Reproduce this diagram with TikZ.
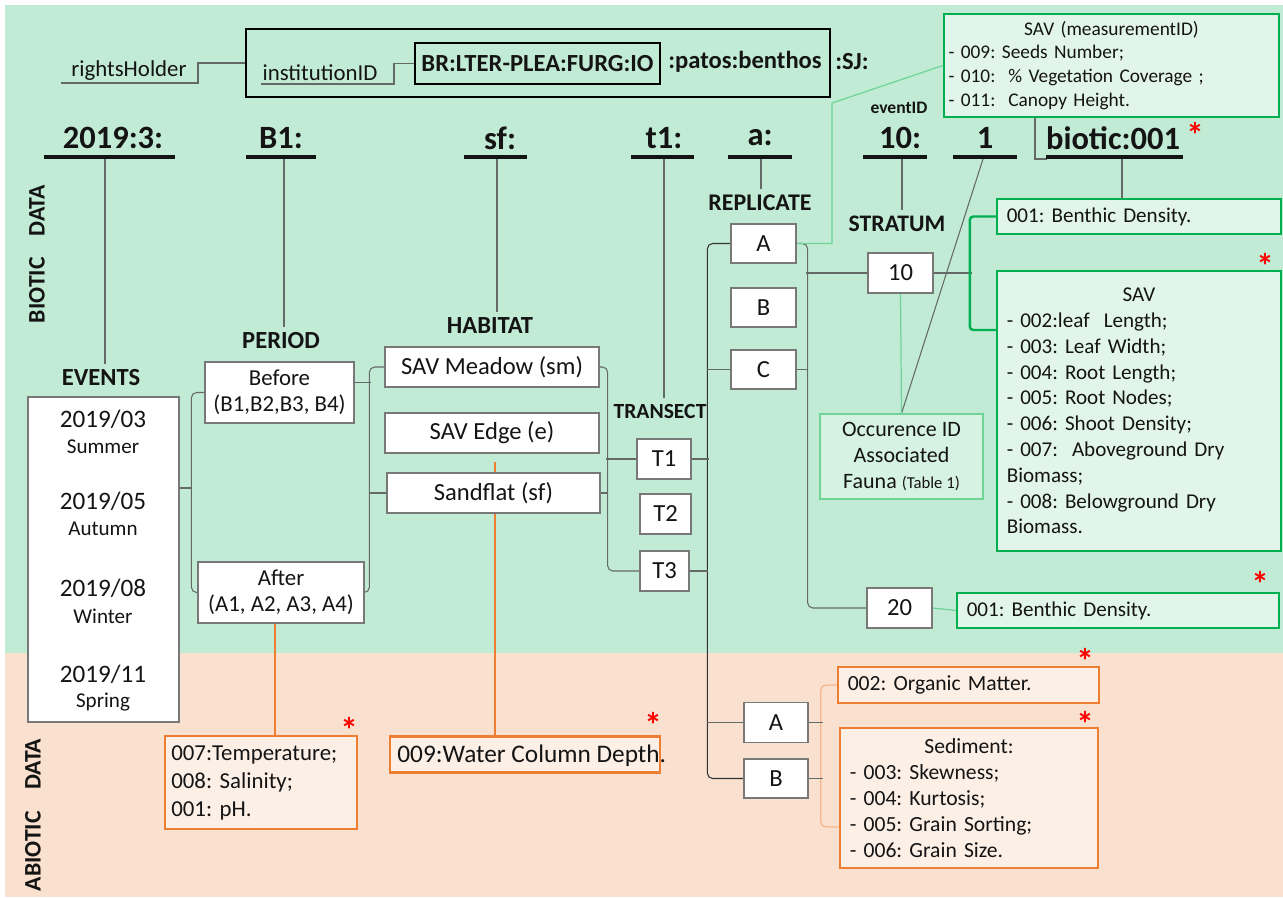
\documentclass[tikz,border=0pt]{standalone}
\usepackage{fontspec}
\setmainfont{Carlito}
\usepackage{xcolor}
\frenchspacing

\definecolor{biobg}{RGB}{194,235,214}
\definecolor{abiobg}{RGB}{250,224,207}
\definecolor{savgreen}{RGB}{0,176,80}
\definecolor{gfill}{RGB}{226,245,234}
\definecolor{occline}{RGB}{110,212,150}
\definecolor{occfill}{RGB}{214,242,226}
\definecolor{sedorange}{RGB}{237,125,49}
\definecolor{ofill}{RGB}{252,239,230}
\definecolor{linegray}{RGB}{100,105,103}
\definecolor{boxgray}{RGB}{120,120,120}
\definecolor{txt}{RGB}{20,20,20}

\pgfdeclarelayer{bg}
\pgfsetlayers{bg,main}

\tikzset{
	sz/.style 2 args={minimum width={#1*0.02cm}, minimum height={#2*0.02cm}},
	conn/.style={draw=linegray, line width=0.6pt, rounded corners=3pt},
	gconn/.style={draw=occline, line width=0.7pt},
	gbrk/.style={draw=savgreen, line width=1.4pt, rounded corners=2pt},
	oconn/.style={draw=sedorange!55, line width=0.8pt, rounded corners=3pt},
	oline/.style={draw=sedorange, line width=1.1pt},
	uline/.style={draw=txt, line width=2.3pt},
	hdr/.style={text=txt, font=\bfseries\fontsize{18.5}{20}\selectfont},
	lbl/.style={text=txt, font=\bfseries\fontsize{14}{16}\selectfont},
	idtxt/.style={text=txt, font=\fontsize{13}{15}\selectfont},
	idbold/.style={text=txt, font=\bfseries\fontsize{14}{16}\selectfont},
	idbox/.style={draw=black, line width=1.2pt, inner sep=0pt},
	wbox/.style={draw=boxgray, fill=white, line width=0.7pt, inner sep=0pt, text=txt,
		align=center, font=\fontsize{14}{16}\selectfont},
	occbox/.style={draw=occline, fill=occfill, line width=0.7pt, inner sep=0pt, text=txt,
		align=center, font=\fontsize{12.5}{14.7}\selectfont},
	gbox/.style={draw=savgreen, fill=gfill, line width=1.4pt, inner xsep=5.5pt, inner ysep=0pt,
		text=txt, align=left, font=\fontsize{12}{14.7}\selectfont},
	obox/.style={draw=sedorange, fill=ofill, line width=1.4pt, inner xsep=5.5pt, inner ysep=0pt,
		text=txt, align=left, font=\fontsize{12.3}{14.7}\selectfont},
	star/.style={text=red, anchor=base, inner sep=0pt, font=\bfseries\fontsize{20}{20}\selectfont},
}

\begin{document}
\begin{tikzpicture}[x=0.02cm, y=-0.02cm]
	\useasboundingbox (0,0) rectangle (1283,897);

	% identifier line
	\node[idtxt] (rights) at (129,71) {rightsHolder};
	\node[idbox, sz={584}{68}] (outer) at (538,63) {};
	\node[idtxt] (inst) at (320,73) {institutionID};
	\node[idbox, sz={245}{41}, idbold] (inner) at (537.5,63.5) {BR:LTER-PLEA:FURG:IO};
	\node[idbold] (patos) at (745,62) {:patos:benthos};
	\node[idbold] (sj) at (852,62) {:SJ:};
	\node[text=txt, font=\bfseries\fontsize{10}{12}\selectfont] (lEventID) at (899,108) {eventID};

	% headers with underline
	\foreach \nm/\txt/\cx/\ul/\ur/\dx in {hYear/2019:3:/113/44/175/105, hPer/B1:/281/246/316/284,
			hHab/sf:/500/464/527/497, hTra/t1:/664/631/694/664, hRep/a:/760/728/792/761,
			hStr/10:/900/863/927/902, hEv/1/985/953/1017/983, hMeas/biotic:001/1113/1046/1183/1122} {
		\node[hdr] (\nm) at (\cx,138) {\txt};
		\draw[uline] (\ul,157) -- (\ur,157);
		\coordinate (\nm-u) at (\dx,159);
	}

	% level labels
	\node[lbl, rotate=90, font=\bfseries\fontsize{13.5}{16}\selectfont] (lBiotic) at (37,254) {BIOTIC\hspace{0.9em}DATA};
	\node[lbl, rotate=90, font=\bfseries\fontsize{13.5}{16}\selectfont] (lAbiotic) at (33,815) {ABIOTIC\hspace{0.9em}DATA};
	\node[lbl] (lEvents) at (101,378) {EVENTS};
	\node[lbl] (lPeriod) at (281,341) {PERIOD};
	\node[lbl] (lHabitat) at (490,326) {HABITAT};
	\node[lbl, font=\bfseries\fontsize{12.3}{14}\selectfont] (lTransect) at (660,411) {TRANSECT};
	\node[lbl, font=\bfseries\fontsize{13.6}{15}\selectfont] (lReplicate) at (760,203) {REPLICATE};
	\node[lbl, font=\bfseries\fontsize{13.5}{15}\selectfont] (lStratum) at (897,224) {STRATUM};

	% events
	\node[wbox, sz={151}{325}] (events) at (103.5,559.5) {};
	\foreach \mo/\sea/\y in {03/Summer/419, 05/Autumn/501, 08/Winter/588, 11/Spring/674} {
		\node[text=txt, font=\fontsize{14.3}{16}\selectfont] (yr\mo) at (103,\y) {2019/\mo};
		\node[text=txt, font=\fontsize{12}{14}\selectfont] (sea\mo) at (103,\y+28) {\sea};
	}

	% period, habitat, transect
	\node[wbox, sz={149}{61}, font=\fontsize{13}{14.7}\selectfont] (before) at (279.5,392.5) {Before\\(B1,B2,B3, B4)};
	\node[wbox, sz={166}{61}, font=\fontsize{13}{14.7}\selectfont] (after) at (281,592.5) {After\\(A1, A2, A3, A4)};
	\node[wbox, sz={214}{40}] (meadow) at (492,367) {SAV Meadow (sm)};
	\node[wbox, sz={214}{40}] (edge) at (492,433) {SAV Edge (e)};
	\node[wbox, sz={213}{40}] (sand) at (493.5,493) {Sandflat (sf)};
	\node[wbox, sz={54}{40}] (tOne) at (664,459) {T1};
	\node[wbox, sz={51}{40}] (tTwo) at (665.5,514) {T2};
	\node[wbox, sz={49}{40}] (tThree) at (664.5,571) {T3};

	% replicate, stratum
	\node[wbox, sz={65}{39}] (repA) at (763.5,243.5) {A};
	\node[wbox, sz={65}{39}] (repB) at (763.5,307.5) {B};
	\node[wbox, sz={65}{39}] (repC) at (763.5,369.5) {C};
	\node[wbox, sz={65}{40}] (sTen) at (900.5,273) {10};
	\node[wbox, sz={65}{40}] (sTwenty) at (899.5,608) {20};
	\node[occbox, sz={163}{85}] (occ) at (901.5,456.5) {Occurence ID\\Associated\\Fauna {\fontsize{9.5}{10}\selectfont(Table 1)}};

	% biotic measurements
	\node[gbox, sz={335}{103}, inner xsep=2.5pt, text width=6.52cm, font=\fontsize{11}{13.6}\selectfont] (measure) at (1111.5,65.5)
		{\hfill SAV (measurementID)\hfill\null\\- 009: Seeds Number;\\- 010:\ \ \% Vegetation Coverage ;\\- 011:\ \ Canopy Height.};
	\node[gbox, sz={284}{35}, text width=5.29cm] (bdenA) at (1139,216.5) {001: Benthic Density.};
	\node[gbox, sz={284}{280}, text width=5.29cm] (savbox) at (1139,411)
		{\hfill SAV\hfill\null\\- 002:leaf\ \ Length;\\- 003: Leaf Width;\\- 004: Root Length;\\- 005: Root Nodes;\\- 006: Shoot Density;\\- 007:\ \ Aboveground Dry\\Biomass;\\- 008: Belowground Dry\\Biomass.};
	\node[gbox, sz={322}{35}, text width=6.05cm] (bdenB) at (1118,610.5) {001: Benthic Density.};

	% abiotic
	\node[wbox, sz={64}{40}] (abA) at (776,722.5) {A};
	\node[wbox, sz={64}{39}] (abB) at (776,778.5) {B};
	\node[obox, sz={261}{36}, text width=4.83cm] (organic) at (968.5,685) {002: Organic Matter.};
	\node[obox, sz={258}{140}, text width=4.77cm] (sediment) at (969,798)
		{\hfill Sediment:\hfill\null\\- 003: Skewness;\\- 004: Kurtosis;\\- 005: Grain Sorting;\\- 006: Grain Size.};
	\node[obox, sz={192}{93}, inner xsep=3.5pt, text width=3.59cm, font=\fontsize{13}{15.9}\selectfont] (temp) at (261,782.5)
		{007:Temperature;\\008: Salinity;\\001: pH.};
	\node[obox, sz={270}{36}] (water) at (525,754.5) {};
	\node[anchor=west, inner sep=0pt, text=txt, font=\fontsize{14.4}{16}\selectfont] (waterTxt) at (397,756) {009:Water Column Depth.};

	% red marks
	\foreach \sx/\sy [count=\i] in {1195/128, 1265/259, 1260/577, 1085/654, 1085/717, 349/723, 653/718}
		\node[star] (ast\i) at (\sx,\sy+19) {*};

	\begin{pgfonlayer}{bg}
		\fill[biobg] (5,5) rectangle (1283,653);
		\fill[abiobg] (5,653) rectangle (1283,897);

		% identifier links
		\coordinate (rhfoot) at (61,83);
		\coordinate (idfoot) at (261,84);
		\draw[conn, rounded corners=0] (rhfoot) -- ++(137,0) |- (outer.west);
		\draw[conn, rounded corners=0] (idfoot) -- ++(133,0) |- (inner.west);

		% header drops
		\draw[conn] (hYear-u) -- (hYear-u |- lEvents.north);
		\draw[conn] (hPer-u) -- (hPer-u |- lPeriod.north);
		\draw[conn] (hHab-u) -- (hHab-u |- lHabitat.north);
		\draw[conn] (hTra-u) -- (hTra-u |- lTransect.north);
		\draw[conn] (hRep-u) -- (hRep-u |- lReplicate.north);
		\draw[conn] (hStr-u) -- (hStr-u |- lStratum.north);
		\draw[conn] (hEv-u) -- (occ.north);
		\draw[conn] (hMeas-u) -- (hMeas-u |- bdenA.north);
		\coordinate (mfoot) at (1035,159);
		\draw[conn, rounded corners=0] (measure.south -| mfoot) -- (mfoot) -- ++(12,0);

		% events -> period -> habitat -> transect
		\coordinate (evjoin) at (192,488);
		\draw[conn] (before.west) -- ++(-13,0) |- (after.west);
		\draw[conn] (events.east |- evjoin) -- (evjoin);
		\draw[conn] (meadow.west) -- ++(-15,0) |- (after.east);
		\draw[conn] (before.north east) ++(0,21) -- ++(16,0);
		\draw[conn] (sand.west) -- ++(-17,0);
		\draw[conn] (meadow.east) -- ++(8,0) |- (tThree.west);
		\draw[conn] (sand.east) -- ++(7,0);
		\draw[conn] (tOne.west) -- ++(-30,0);

		% transect -> replicate (biotic and abiotic)
		\draw[conn, draw=black!80] (repA.west) -- ++(-23,0) |- (abB.west);
		\draw[conn] (repC.west) -- ++(-23,0);
		\draw[conn] (tOne.east) -- ++(17,0);
		\draw[conn] (tThree.east) -- ++(18.5,0);
		\draw[conn] (abA.west) -- ++(-36,0);

		% replicate -> stratum
		\draw[conn] (repA.east) -- ++(11,0) |- (sTwenty.west);
		\draw[conn] (repC.east) -- ++(11,0);
		\draw[conn] (sTen.west) -- ++(-61,0);
		\coordinate (gbend) at (832,103);
		\draw[gconn] (repA.east) -- (repA.east -| gbend) -- (gbend) -- (measure.west);

		% stratum -> measurements
		\coordinate (savjoin) at (971,330);
		\draw[conn] (sTen.east) -- ++(38,0);
		\draw[gbrk] (bdenA.west) -- ++(-26,0) |- (savbox.west |- savjoin);
		\draw[gconn] (sTen.south) -- (occ.north);
		\draw[gconn] (sTwenty.east) -- (bdenB.west);

		% abiotic links
		\coordinate (sedjoin) at (822,827);
		\draw[oconn] (organic.west) -- ++(-16,0) |- (sediment.west |- sedjoin);
		\draw[conn] (abA.east) -- ++(14,0);
		\draw[conn] (abB.east) -- ++(14,0);
		\coordinate (aftdrop) at (275,0);
		\draw[oline] (after.south -| aftdrop) -- (temp.north -| aftdrop);
		\coordinate (edgedrop) at (495,462);
		\draw[oline] (edgedrop) -- (edgedrop |- water.north);
	\end{pgfonlayer}
\end{tikzpicture}
\end{document}
